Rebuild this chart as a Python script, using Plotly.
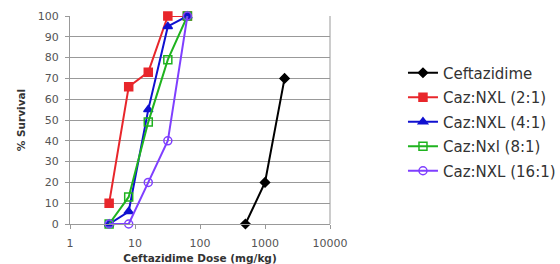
import plotly.graph_objects as go

# Data
series_names = ["Ceftazidime", "Caz:NXL (2:1)", "Caz:NXL (4:1)", "Caz:Nxl (8:1)", "Caz:NXL (16:1)"]
caz_dose = [500, 1000, 2000]
caz_surv = [0, 20, 70]
combo_dose = [4, 8, 16, 32, 64]
surv_2to1 = [10, 66, 73, 100, 100]
surv_4to1 = [0, 6, 55, 95, 100]
surv_8to1 = [0, 13, 49, 79, 100]
surv_16to1 = [0, 0, 20, 40, 100]
x_tickvals = [1, 10, 100, 1000, 10000]
x_ticktext = ["1", "10", "100", "1000", "10000"]

colors = ["#000000", "#e8262b", "#1010d0", "#1fb31f", "#7f3fff"]
symbols = ["diamond", "square", "triangle-up", "square-open", "circle-open"]
sizes = [7, 8, 8, 8, 8]

xs = [caz_dose, combo_dose, combo_dose, combo_dose, combo_dose]
ys = [caz_surv, surv_2to1, surv_4to1, surv_8to1, surv_16to1]

fig = go.Figure()
for i, (name, x, y, c, s, sz) in enumerate(zip(series_names, xs, ys, colors, symbols, sizes)):
    fig.add_trace(go.Scatter(
        x=x, y=y, name=name, mode="lines+markers", legendgroup=f"g{i}",
        line=dict(color=c, width=2),
        marker=dict(symbol=s, size=sz, color=c, line=dict(color=c, width=1.5)),
        cliponaxis=False,
    ))

fig.update_layout(
    width=560, height=264,
    margin=dict(l=70, r=230, t=16, b=40, autoexpand=False),
    paper_bgcolor="white", plot_bgcolor="white",
    font=dict(family="DejaVu Sans, Verdana, sans-serif", size=11, color="#555555"),
    showlegend=True,
    legend=dict(
        xref="container", yref="container",
        x=0.7196, y=0.786, xanchor="left", yanchor="top",
        font=dict(size=15, color="#333333"),
        bgcolor="rgba(0,0,0,0)", tracegroupgap=2, itemwidth=30,
    ),
    xaxis=dict(
        type="log", range=[0, 4], automargin=False,
        tickvals=x_tickvals, ticktext=x_ticktext,
        showgrid=False, showline=True, linecolor="#999999", linewidth=1,
        mirror=False, ticks="outside", ticklen=4, tickcolor="#999999",
        ticklabelstandoff=5,
        tickfont=dict(size=11, color="#555555"),
        title=dict(text="<b>Ceftazidime Dose (mg/kg)</b>", font=dict(size=10.5, color="#333333"), standoff=6),
        zeroline=False,
    ),
    yaxis=dict(
        range=[0, 100], dtick=10, automargin=False,
        showgrid=True, gridcolor="#999999", gridwidth=1,
        showline=True, linecolor="#999999", linewidth=1,
        ticks="outside", ticklen=4, tickcolor="#999999",
        ticklabelstandoff=4,
        tickfont=dict(size=11, color="#555555"),
        title=dict(text="<b>% Survival</b>", font=dict(size=10.5, color="#333333"), standoff=10),
        zeroline=False,
    ),
)
# right border of plot area
fig.add_shape(type="line", xref="paper", yref="paper", x0=1, x1=1, y0=0, y1=1,
              line=dict(color="#999999", width=1))

fig.write_html("out.html", config={"displayModeBar": False},
               post_script="document.body.style.margin='0';")
